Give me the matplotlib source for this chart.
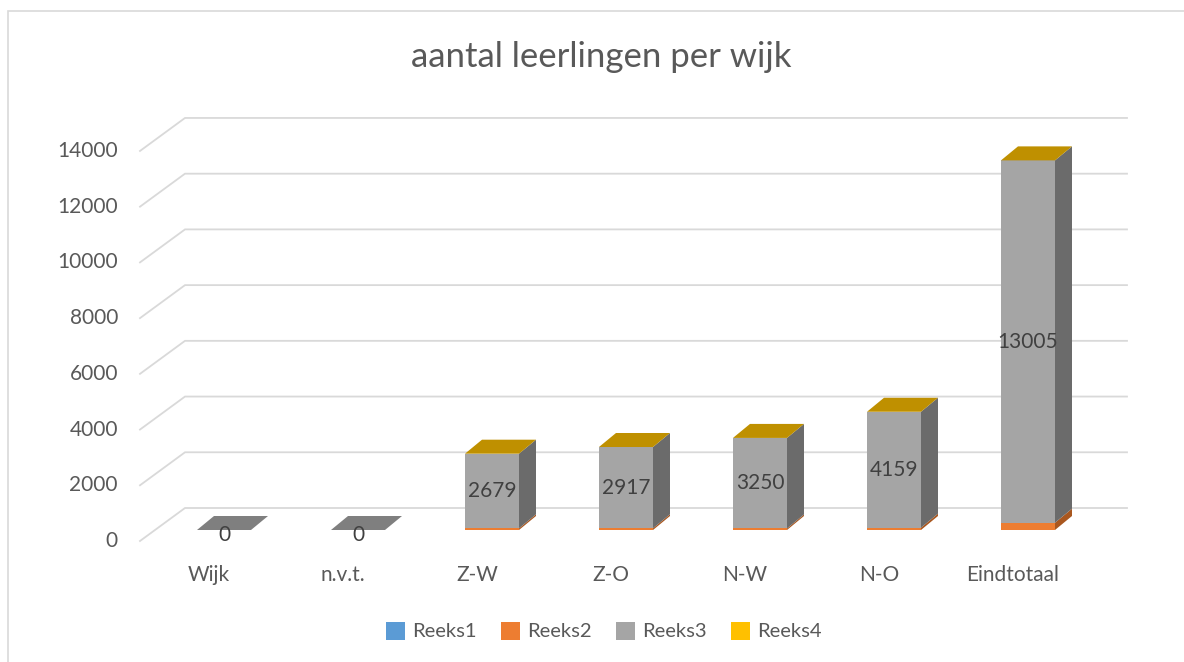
"""Excel-style 3D stacked column chart: aantal leerlingen per wijk."""
import matplotlib
matplotlib.use("Agg")
import matplotlib.pyplot as plt
from matplotlib.patches import Polygon, Patch, Rectangle

plt.rcParams['font.family'] = ['Lato', 'DejaVu Sans']

# data
categories = ['Wijk', 'n.v.t.', 'Z-W', 'Z-O', 'N-W', 'N-O', 'Eindtotaal']
reeks1 = [0, 0, 0, 0, 0, 0, 0]
reeks2 = [0, 0, 60, 62, 55, 85, 262]
reeks3 = [0, 0, 2679, 2917, 3250, 4159, 13005]
reeks4 = [None, None, 0, 0, 0, 0, 0]
series_names = ['Reeks1', 'Reeks2', 'Reeks3', 'Reeks4']
yticks = [0, 2000, 4000, 6000, 8000, 10000, 12000, 14000]

front = ['#5B9BD5', '#ED7D31', '#A5A5A5', '#FFC000']
side = ['#3F75A8', '#A9571F', '#6B6B6B', '#B38700']
top = ['#4A86C0', '#C8692A', '#7F7F7F', '#BF9000']
txt = '#595959'
grid_c = '#D9D9D9'

# pixel scale of the fake 3D projection
PX_X = 134.0        # pixels per category
PX_Y = 0.02786      # pixels per unit
W, H = 1184, 662
X0, Y0 = 224, 530   # pixel of first bar centre / value 0 at bar front


def dx(p):
    return p / PX_X


def dy(p):
    return p / PX_Y


fig = plt.figure(figsize=(W / 100, H / 100), dpi=100)
ax = fig.add_axes([0, 0, 1, 1])
ax.set_xlim(dx(-X0), dx(W - X0))
ax.set_ylim(dy(Y0 - H), dy(Y0))
ax.axis('off')

# chart frame
fig.patches.append(Rectangle((8 / W, -0.1), 1.2, 1 - 11 / H + 0.1,
                             transform=fig.transFigure, fill=False,
                             edgecolor=grid_c, lw=1.2, zorder=0))

# wall / floor geometry (offsets relative to the bar front face)
back_off = (dx(30), dy(22))
front_off = (dx(-15), dy(-11))
back_left = dx(185 - X0)
back_right = dx(1127 - X0)
floor_dx = back_off[0] - front_off[0]

for v in yticks:
    fx, fy = back_left - floor_dx, v + front_off[1]
    by = v + back_off[1]
    ax.plot([fx, back_left, back_right], [fy, by, by], color=grid_c,
            lw=1.3, zorder=1, solid_joinstyle='miter')
    ax.text(fx - dx(22), fy, str(v), ha='right', va='center',
            fontsize=15, color=txt)

# bars
bw = dx(54)
ddx, ddy = dx(17), dy(14)
data = [reeks1, reeks2, reeks3, reeks4]
for i, cat in enumerate(categories):
    xl, xr = i - bw / 2, i + bw / 2
    base = 0
    top_k = None
    for k, ser in enumerate(data):
        val = ser[i]
        if val is None:
            continue
        top_k = k
        if val > 0:
            ax.bar(i, val, bottom=base, width=bw, color=front[k],
                   linewidth=0, zorder=3)
            ax.add_patch(Polygon([(xr, base), (xr + ddx, base + ddy),
                                  (xr + ddx, base + val + ddy), (xr, base + val)],
                                 closed=True, facecolor=side[k], lw=0, zorder=3))
        base += val
    ax.add_patch(Polygon([(xl, base), (xl + ddx, base + ddy),
                          (xr + ddx, base + ddy), (xr, base)],
                         closed=True, facecolor=top[top_k], lw=0, zorder=4))
    # data label for Reeks3
    mid = reeks1[i] + reeks2[i] + reeks3[i] / 2
    ax.text(i, mid - (dy(5) if reeks3[i] == 0 else 0), str(reeks3[i]),
            ha='center', va='center', fontsize=15, color='#404040', zorder=5)
    ax.text(i + front_off[0], dy(-45), cat, ha='center', va='center',
            fontsize=15, color=txt)

fig.text(601 / W, 1 - 57 / H, 'aantal leerlingen per wijk', ha='center',
         va='center', fontsize=25, color=txt)

handles = [Patch(facecolor=c, edgecolor='none') for c in front]
fig.legend(handles, series_names, loc='center', ncol=4, frameon=False,
           bbox_to_anchor=(604 / W, 1 - 631 / H), fontsize=14.5,
           handlelength=0.95, handleheight=1.0, handletextpad=0.35,
           columnspacing=1.2, labelcolor=txt)

fig.savefig('out.png', dpi=100)
